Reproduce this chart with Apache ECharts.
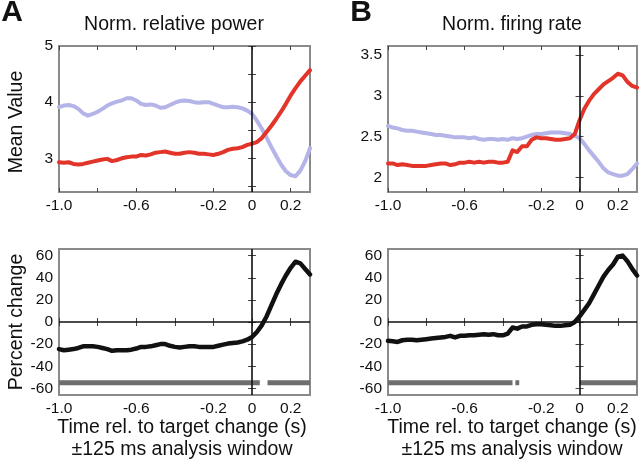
<!DOCTYPE html>
<html>
<head>
<meta charset="utf-8">
<script src="https://cdn.jsdelivr.net/npm/echarts@6/dist/echarts.min.js"></script>
<style>
  html, body { margin: 0; padding: 0; background: #fff; }
  #chart { width: 640px; height: 462px; }
</style>
</head>
<body>
<div id="chart"></div>
<script>
// time axis (s), shared by every curve
const times = [
  -1.000, -0.975, -0.950, -0.925, -0.900, -0.875, -0.850, -0.825, -0.800, -0.775,
  -0.750, -0.725, -0.700, -0.675, -0.650, -0.625, -0.600, -0.575, -0.550, -0.525,
  -0.500, -0.475, -0.450, -0.425, -0.400, -0.375, -0.350, -0.325, -0.300, -0.275,
  -0.250, -0.225, -0.200, -0.175, -0.150, -0.125, -0.100, -0.075, -0.050, -0.025,
  0.000, 0.025, 0.050, 0.075, 0.100, 0.125, 0.150, 0.175, 0.200, 0.225,
  0.250, 0.275, 0.300
];

// A: norm. relative power
const powerBlue = [
  3.91, 3.94, 3.95, 3.93, 3.88, 3.80, 3.76, 3.79, 3.83, 3.88,
  3.94, 3.98, 4.01, 4.03, 4.07, 4.07, 4.03, 3.97, 3.95, 3.96,
  3.94, 3.90, 3.91, 3.95, 3.99, 4.02, 4.03, 4.02, 4.00, 3.99,
  4.00, 4.00, 3.97, 3.94, 3.91, 3.91, 3.92, 3.91, 3.89, 3.85,
  3.79, 3.67, 3.53, 3.37, 3.20, 3.04, 2.89, 2.77, 2.70, 2.68,
  2.78, 2.95, 3.18
];
const powerRed = [
  2.93, 2.92, 2.93, 2.90, 2.89, 2.90, 2.92, 2.94, 2.96, 2.98,
  2.99, 2.95, 2.97, 3.00, 3.02, 3.03, 3.03, 3.06, 3.05, 3.07,
  3.10, 3.11, 3.12, 3.10, 3.08, 3.08, 3.10, 3.11, 3.10, 3.08,
  3.08, 3.07, 3.06, 3.08, 3.11, 3.15, 3.17, 3.18, 3.20, 3.24,
  3.26, 3.29, 3.36, 3.47, 3.58, 3.70, 3.83, 3.97, 4.12, 4.25,
  4.37, 4.47, 4.57
];
const powerChange = [
  -24.5, -25.5, -25, -24.5, -23.5, -22, -22, -22, -22.5, -23.5,
  -24.5, -26, -25.5, -25.5, -25.5, -25, -24, -22.5, -22.5, -22,
  -21, -20, -20, -21.5, -22.5, -23, -22.5, -22, -22, -22.5,
  -22.5, -22.5, -22.5, -21.5, -20.5, -19.5, -19, -18.5, -17.5, -16,
  -13.5, -9, -3, 5, 15, 25, 34, 42, 49, 54.5,
  53, 48, 43
];

// B: norm. firing rate
const rateBlue = [
  2.63, 2.61, 2.60, 2.58, 2.57, 2.57, 2.56, 2.55, 2.54, 2.53,
  2.52, 2.52, 2.51, 2.50, 2.49, 2.49, 2.49, 2.48, 2.49, 2.47,
  2.46, 2.47, 2.47, 2.46, 2.47, 2.46, 2.48, 2.47, 2.48, 2.50,
  2.52, 2.53, 2.53, 2.54, 2.55, 2.55, 2.55, 2.54, 2.53, 2.51,
  2.48, 2.41, 2.33, 2.26, 2.19, 2.11, 2.06, 2.04, 2.02, 2.02,
  2.04, 2.10, 2.17
];
const rateRed = [
  2.17, 2.17, 2.15, 2.16, 2.15, 2.14, 2.14, 2.14, 2.14, 2.15,
  2.16, 2.17, 2.17, 2.15, 2.16, 2.18, 2.18, 2.19, 2.18, 2.19,
  2.18, 2.19, 2.19, 2.18, 2.18, 2.19, 2.33, 2.31, 2.38, 2.38,
  2.46, 2.49, 2.48, 2.48, 2.47, 2.46, 2.46, 2.47, 2.48, 2.53,
  2.70, 2.84, 2.94, 3.02, 3.08, 3.14, 3.18, 3.22, 3.27, 3.25,
  3.17, 3.12, 3.10
];
const rateChange = [
  -17, -17.5, -18, -16.5, -16, -16, -16.5, -16, -15.5, -15,
  -14.5, -14, -13.5, -12.5, -14, -12.5, -12.5, -12, -12, -11.5,
  -11, -11.5, -11, -12, -12, -10.5, -5, -6, -4, -4,
  -2.5, -2, -2, -2.5, -3, -3.5, -3.5, -3, -2.5, 0,
  5, 11, 17, 25, 33, 41, 47, 52, 59, 60,
  55, 48, 42
];

// significant time windows [start, end]
const sigPower = [[-1.0, 0.04], [0.08, 0.3]];
const sigRate = [[-1.0, -0.35], [-0.335, -0.315], [0.0, 0.3]];
const sigLevel = -55;

// ticks and labels
const xTicks = [-1.0, -0.8, -0.6, -0.4, -0.2, 0, 0.2];
const xLabels = [-1.0, -0.6, -0.2, 0, 0.2];
const powerTicks = [2.5, 3, 3.5, 4, 4.5, 5];
const powerLabels = [3, 4, 5];
const rateTicks = [2, 2.5, 3, 3.5];
const changeTicks = [-60, -40, -20, 0, 20, 40, 60];

const FONT = 'Liberation Sans, Arial, sans-serif';
const RED = '#e3342a';
const BLUE = '#b4b4e8';
const BLACK = '#111';
const BAR = '#6e6e70';
const FRAME = '#8a8a8a';

const chart = echarts.init(document.getElementById('chart'));

const grids = [];
const xAxes = [];
const yAxes = [];

function addPanel(left, top, width, yMin, yMax, yTicks, yLabels) {
  const i = grids.length;
  grids.push({
    left, top, width, height: 146,
    show: true, borderColor: FRAME, borderWidth: 2, backgroundColor: 'transparent'
  });
  const tick = { show: true, inside: true, length: 4, lineStyle: { color: '#444', width: 1 } };
  [false, true].forEach(mirror => {
    xAxes.push({
      type: 'value', gridIndex: i, min: -1.0, max: 0.3,
      position: mirror ? 'top' : 'bottom',
      axisLine: { show: false },
      splitLine: { show: false },
      axisTick: { ...tick, customValues: xTicks },
      axisLabel: {
        show: !mirror, customValues: xLabels, margin: 6,
        fontFamily: FONT, fontSize: 15.5, color: BLACK,
        formatter: v => (v === -1 ? '-1.0' : String(Math.round(v * 10) / 10))
      }
    });
    yAxes.push({
      type: 'value', gridIndex: i, min: yMin, max: yMax,
      position: mirror ? 'right' : 'left',
      axisLine: { show: false },
      splitLine: { show: false },
      axisTick: { ...tick, customValues: yTicks },
      axisLabel: {
        show: !mirror, customValues: yLabels, margin: 6,
        fontFamily: FONT, fontSize: 15.5, color: BLACK
      }
    });
  });
  return 2 * i;
}

const aTop = addPanel(59, 46, 251, 2.4, 5, powerTicks, powerLabels);
const bTop = addPanel(388, 46, 249, 1.82, 3.61, rateTicks, rateTicks);
const aBot = addPanel(59, 249, 251, -66, 66, changeTicks, changeTicks);
const bBot = addPanel(388, 249, 249, -66, 66, changeTicks, changeTicks);

const pairs = arr => times.map((t, i) => [t, arr[i]]);

function curve(axis, values, color, width, zeroLines) {
  const s = {
    type: 'line', xAxisIndex: axis, yAxisIndex: axis,
    data: pairs(values), showSymbol: false, smooth: false,
    lineStyle: { color, width, join: 'round', cap: 'round' },
    z: 3
  };
  if (zeroLines) {
    s.markLine = {
      silent: true, symbol: 'none', animation: false,
      label: { show: false },
      lineStyle: { color: BLACK, width: 1.6, type: 'solid' },
      data: zeroLines
    };
  }
  return s;
}

function sigBars(axis, windows) {
  return windows.map(w => ({
    type: 'line', xAxisIndex: axis, yAxisIndex: axis,
    data: [[w[0], sigLevel], [w[1], sigLevel]],
    showSymbol: false,
    lineStyle: { color: BAR, width: 5, cap: 'butt' },
    z: 2
  }));
}

const series = [
  curve(aTop, powerBlue, BLUE, 4, [{ xAxis: 0 }]),
  curve(aTop, powerRed, RED, 4),
  curve(bTop, rateBlue, BLUE, 4, [{ xAxis: 0 }]),
  curve(bTop, rateRed, RED, 4),
  curve(aBot, powerChange, BLACK, 4.5, [{ xAxis: 0 }, { yAxis: 0 }]),
  curve(bBot, rateChange, BLACK, 4.5, [{ xAxis: 0 }, { yAxis: 0 }]),
  ...sigBars(aBot, sigPower),
  ...sigBars(bBot, sigRate)
];

const txt = (x, y, text, size, extra = {}) => ({
  type: 'text', x, y,
  style: {
    text, fontFamily: FONT, fontSize: size, fill: BLACK,
    textAlign: 'center', textVerticalAlign: 'middle', ...extra
  }
});

const graphic = [
  txt(12, 13, 'A', 30, { fontWeight: 'bold' }),
  txt(361, 13, 'B', 30, { fontWeight: 'bold' }),
  txt(174, 25, 'Norm. relative power', 19.5),
  txt(512, 25, 'Norm. firing rate', 19.5),
  { ...txt(17, 122, 'Mean Value', 19.5), rotation: Math.PI / 2 },
  { ...txt(17, 322, 'Percent change', 19.5), rotation: Math.PI / 2 },
  txt(182, 428, 'Time rel. to target change (s)', 19.5),
  txt(182, 450, '\u00b1125 ms analysis window', 19.5),
  txt(512, 428, 'Time rel. to target change (s)', 19.5),
  txt(512, 450, '\u00b1125 ms analysis window', 19.5)
];

chart.setOption({
  animation: false,
  backgroundColor: '#fff',
  grid: grids,
  xAxis: xAxes,
  yAxis: yAxes,
  series,
  graphic
});
</script>
</body>
</html>
